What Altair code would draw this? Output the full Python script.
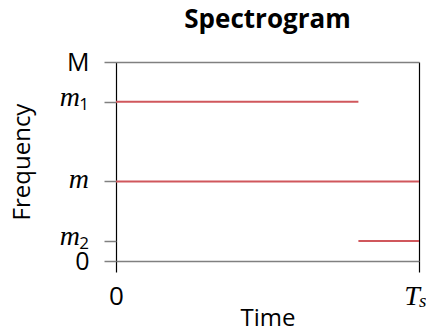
import altair as alt
import pandas as pd

# segment data (time in units of T_s, frequency in units where M = 10)
series = ["m1", "m", "m2"]
t_start = [0.0, 0.0, 0.8]
t_end = [0.8, 1.0, 1.0]
freq = [8, 4, 1]

# tick values and their labels (main symbol + subscript)
y_ticks = [0, 1, 4, 8, 10]
y_main = ["0", "m", "m", "m", "M"]
y_sub = ["", "2", "", "1", ""]
y_math = [False, True, True, True, False]
x_ticks = [0, 1]
x_main = ["0", "T"]
x_sub = ["", "s"]
x_math = [False, True]

df = pd.DataFrame({"series": series, "t0": t_start, "t1": t_end, "f": freq})
ylab = pd.DataFrame({"f": y_ticks, "main": y_main, "sub": y_sub, "math": y_math})
xlab = pd.DataFrame({"t0": x_ticks, "main": x_main, "sub": x_sub, "math": x_math})

# axis shows only the plain (non-math) labels; math labels drawn as text
ymap = "{" + ",".join(f"'{v}':'{'' if mth else l}'" for v, l, mth in zip(y_ticks, y_main, y_math)) + "}"
xmap = "{" + ",".join(f"'{v}':'{'' if mth else l}'" for v, l, mth in zip(x_ticks, x_main, x_math)) + "}"

RED = "#d0575c"
GRAY = "#808080"
FONT = "Open Sans"
MATH = "Liberation Serif"
sans_test = "datum.value == 0 || datum.value == 10"

xscale = alt.Scale(domain=[0, 1], nice=False, zero=False)
yscale = alt.Scale(domain=[0, 10], nice=False)

xaxis = alt.Axis(values=x_ticks, labelExpr=f"{xmap}[datum.value]",
                 title="Time", domain=False, grid=True, gridColor="black",
                 gridWidth=1.2, gridOpacity=1, tickColor="black", tickSize=11,
                 tickWidth=1.2, labelFontSize=26, labelPadding=11,
                 labelOverlap=False, labelFont=FONT, labelColor="black",
                 titleFontSize=24, titleFont=FONT,
                 titleFontWeight="normal", titleColor="black",
                 titleX=151.5, titleY=64, titleBaseline="alphabetic",
                 labelFlush=False)
yaxis = alt.Axis(values=y_ticks, labelExpr=f"{ymap}[datum.value]",
                 title="Frequency", domain=False, grid=True, gridColor=GRAY,
                 gridWidth=1.5,
                 gridOpacity=alt.condition(sans_test, alt.value(1), alt.value(0)),
                 tickColor=GRAY, tickSize=12, tickWidth=1.5,
                 labelFontSize=25, labelPadding=15, labelOverlap=False,
                 labelFont=FONT, labelColor="black",
                 titleFontSize=24, titleFont=FONT,
                 titleFontWeight="normal", titleColor="black",
                 titleX=-82, titleY=99.5, titleBaseline="bottom", titleAngle=270,
                 labelFlush=False)

lines = alt.Chart(df).mark_rule(color=RED, strokeWidth=2).encode(
    x=alt.X("t0:Q", scale=xscale, axis=xaxis),
    x2="t1:Q",
    y=alt.Y("f:Q", scale=yscale, axis=yaxis),
)

ybase = alt.Chart(ylab).transform_filter("datum.math")
y_main_sub = ybase.transform_filter("datum.sub != ''").mark_text(
    font=MATH, fontStyle="italic", fontSize=28, align="right", baseline="alphabetic",
    dy=4, color="black"
).encode(y=alt.Y("f:Q", scale=yscale, axis=yaxis), x=alt.value(-36), text="main:N")
y_main_plain = ybase.transform_filter("datum.sub == ''").mark_text(
    font=MATH, fontStyle="italic", fontSize=28, align="right", baseline="alphabetic",
    dy=7, color="black"
).encode(y=alt.Y("f:Q", scale=yscale, axis=yaxis), x=alt.value(-27), text="main:N")
y_subs = ybase.transform_filter("datum.sub != ''").mark_text(
    font=FONT, fontSize=17, align="right", baseline="alphabetic", dy=8, color="black"
).encode(y=alt.Y("f:Q", scale=yscale, axis=yaxis), x=alt.value(-27), text="sub:N")

xbase = alt.Chart(xlab).transform_filter("datum.math")
x_mains = xbase.mark_text(
    font=MATH, fontStyle="italic", fontSize=28, align="center", baseline="alphabetic",
    dx=-7, color="black"
).encode(x=alt.X("t0:Q", scale=xscale, axis=xaxis), y=alt.value(243), text="main:N")
x_subs = xbase.mark_text(
    font=MATH, fontStyle="italic", fontSize=19, align="left", baseline="alphabetic",
    dx=0, color="black"
).encode(x=alt.X("t0:Q", scale=xscale, axis=xaxis), y=alt.value(245), text="sub:N")

chart = alt.layer(lines, y_main_sub, y_main_plain, y_subs, x_mains, x_subs).properties(
    width=303, height=199,
    title=alt.TitleParams("Spectrogram", fontSize=26, font=FONT, fontWeight="bold",
                          anchor="middle", frame="group", offset=17, color="black"),
    autosize=alt.AutoSizeParams(type="none"),
    padding={"left": 108, "top": 54, "right": 7, "bottom": 66},
).configure_view(stroke=None)

chart.save("out.html", embed_options={"renderer": "svg", "actions": False})
